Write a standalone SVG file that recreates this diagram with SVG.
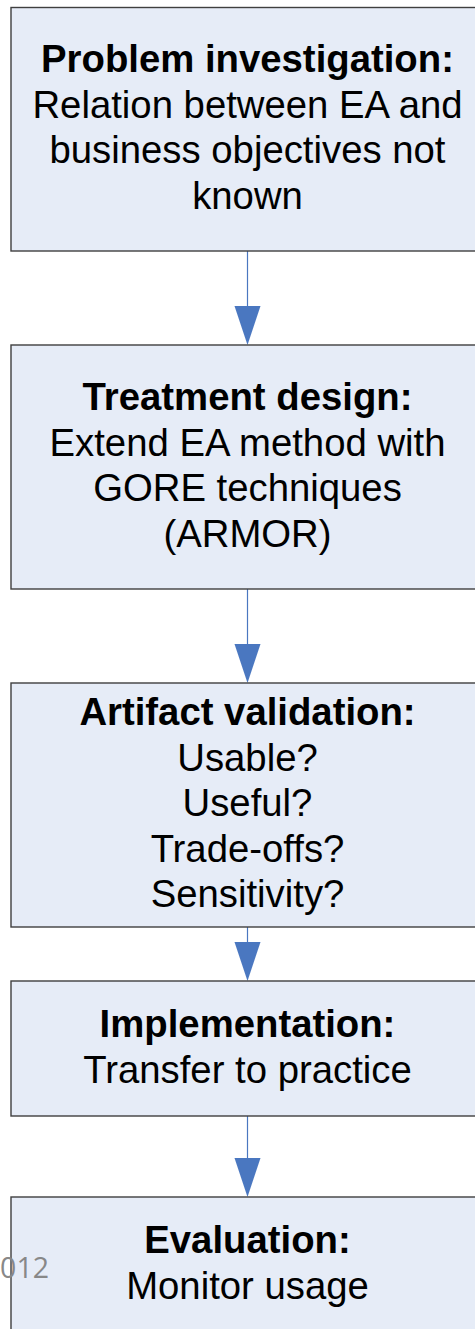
<svg xmlns="http://www.w3.org/2000/svg" width="475" height="1329" viewBox="0 0 475 1329">
  <style>
    .box { fill: #E6ECF7; stroke: #3F3F3F; stroke-width: 1.4; }
    .title { font-family: "Liberation Sans", Arial, sans-serif; font-size: 38.3px; font-weight: bold; fill: #000; text-anchor: middle; }
    .body { font-family: "Liberation Sans", Arial, sans-serif; font-size: 38.3px; fill: #000; text-anchor: middle; }
    .wire { stroke: #4A77C0; stroke-width: 1.2; fill: none; }
    .head { fill: #4A77C0; stroke: none; }
    .pagenum { font-family: "Open Sans", "Liberation Sans", sans-serif; font-size: 28.5px; fill: #888888; text-anchor: end; }
  </style>

  <!-- connectors between the stages -->
  <g id="connectors">
    <line class="wire" x1="247.5" y1="251" x2="247.5" y2="307"/>
    <polygon class="head" points="234.5,306 260.5,306 247.5,345"/>

    <line class="wire" x1="247.5" y1="589" x2="247.5" y2="645"/>
    <polygon class="head" points="234.5,644 260.5,644 247.5,683"/>

    <line class="wire" x1="247.5" y1="927" x2="247.5" y2="943"/>
    <polygon class="head" points="234.5,942 260.5,942 247.5,981"/>

    <line class="wire" x1="247.5" y1="1116" x2="247.5" y2="1159"/>
    <polygon class="head" points="234.5,1158 260.5,1158 247.5,1197"/>
  </g>

  <g id="problem-investigation">
    <rect class="box" x="11" y="7.5" width="480" height="243.5"/>
    <text class="title" x="247.5" y="72">Problem investigation:</text>
    <text class="body" x="247.5" y="117.5">Relation between EA and</text>
    <text class="body" x="247.5" y="163">business objectives not</text>
    <text class="body" x="247.5" y="208.5">known</text>
  </g>

  <g id="treatment-design">
    <rect class="box" x="11" y="345" width="480" height="244"/>
    <text class="title" x="247.5" y="410">Treatment design:</text>
    <text class="body" x="247.5" y="455.5">Extend EA method with</text>
    <text class="body" x="247.5" y="501">GORE techniques</text>
    <text class="body" x="247.5" y="546.5">(ARMOR)</text>
  </g>

  <g id="artifact-validation">
    <rect class="box" x="11" y="683" width="480" height="244"/>
    <text class="title" x="247.5" y="725">Artifact validation:</text>
    <text class="body" x="247.5" y="770.5">Usable?</text>
    <text class="body" x="247.5" y="816">Useful?</text>
    <text class="body" x="247.5" y="861.5">Trade-offs?</text>
    <text class="body" x="247.5" y="907">Sensitivity?</text>
  </g>

  <g id="implementation">
    <rect class="box" x="11" y="981" width="480" height="135"/>
    <text class="title" x="247.5" y="1036.5">Implementation:</text>
    <text class="body" x="247.5" y="1082.5">Transfer to practice</text>
  </g>

  <g id="evaluation">
    <rect class="box" x="11" y="1197" width="480" height="160"/>
    <text class="title" x="247.5" y="1252.5">Evaluation:</text>
    <text class="body" x="247.5" y="1298.5">Monitor usage</text>
  </g>

  <!-- page number fragment at the left margin -->
  <text class="pagenum" x="49" y="1278">012</text>
</svg>
